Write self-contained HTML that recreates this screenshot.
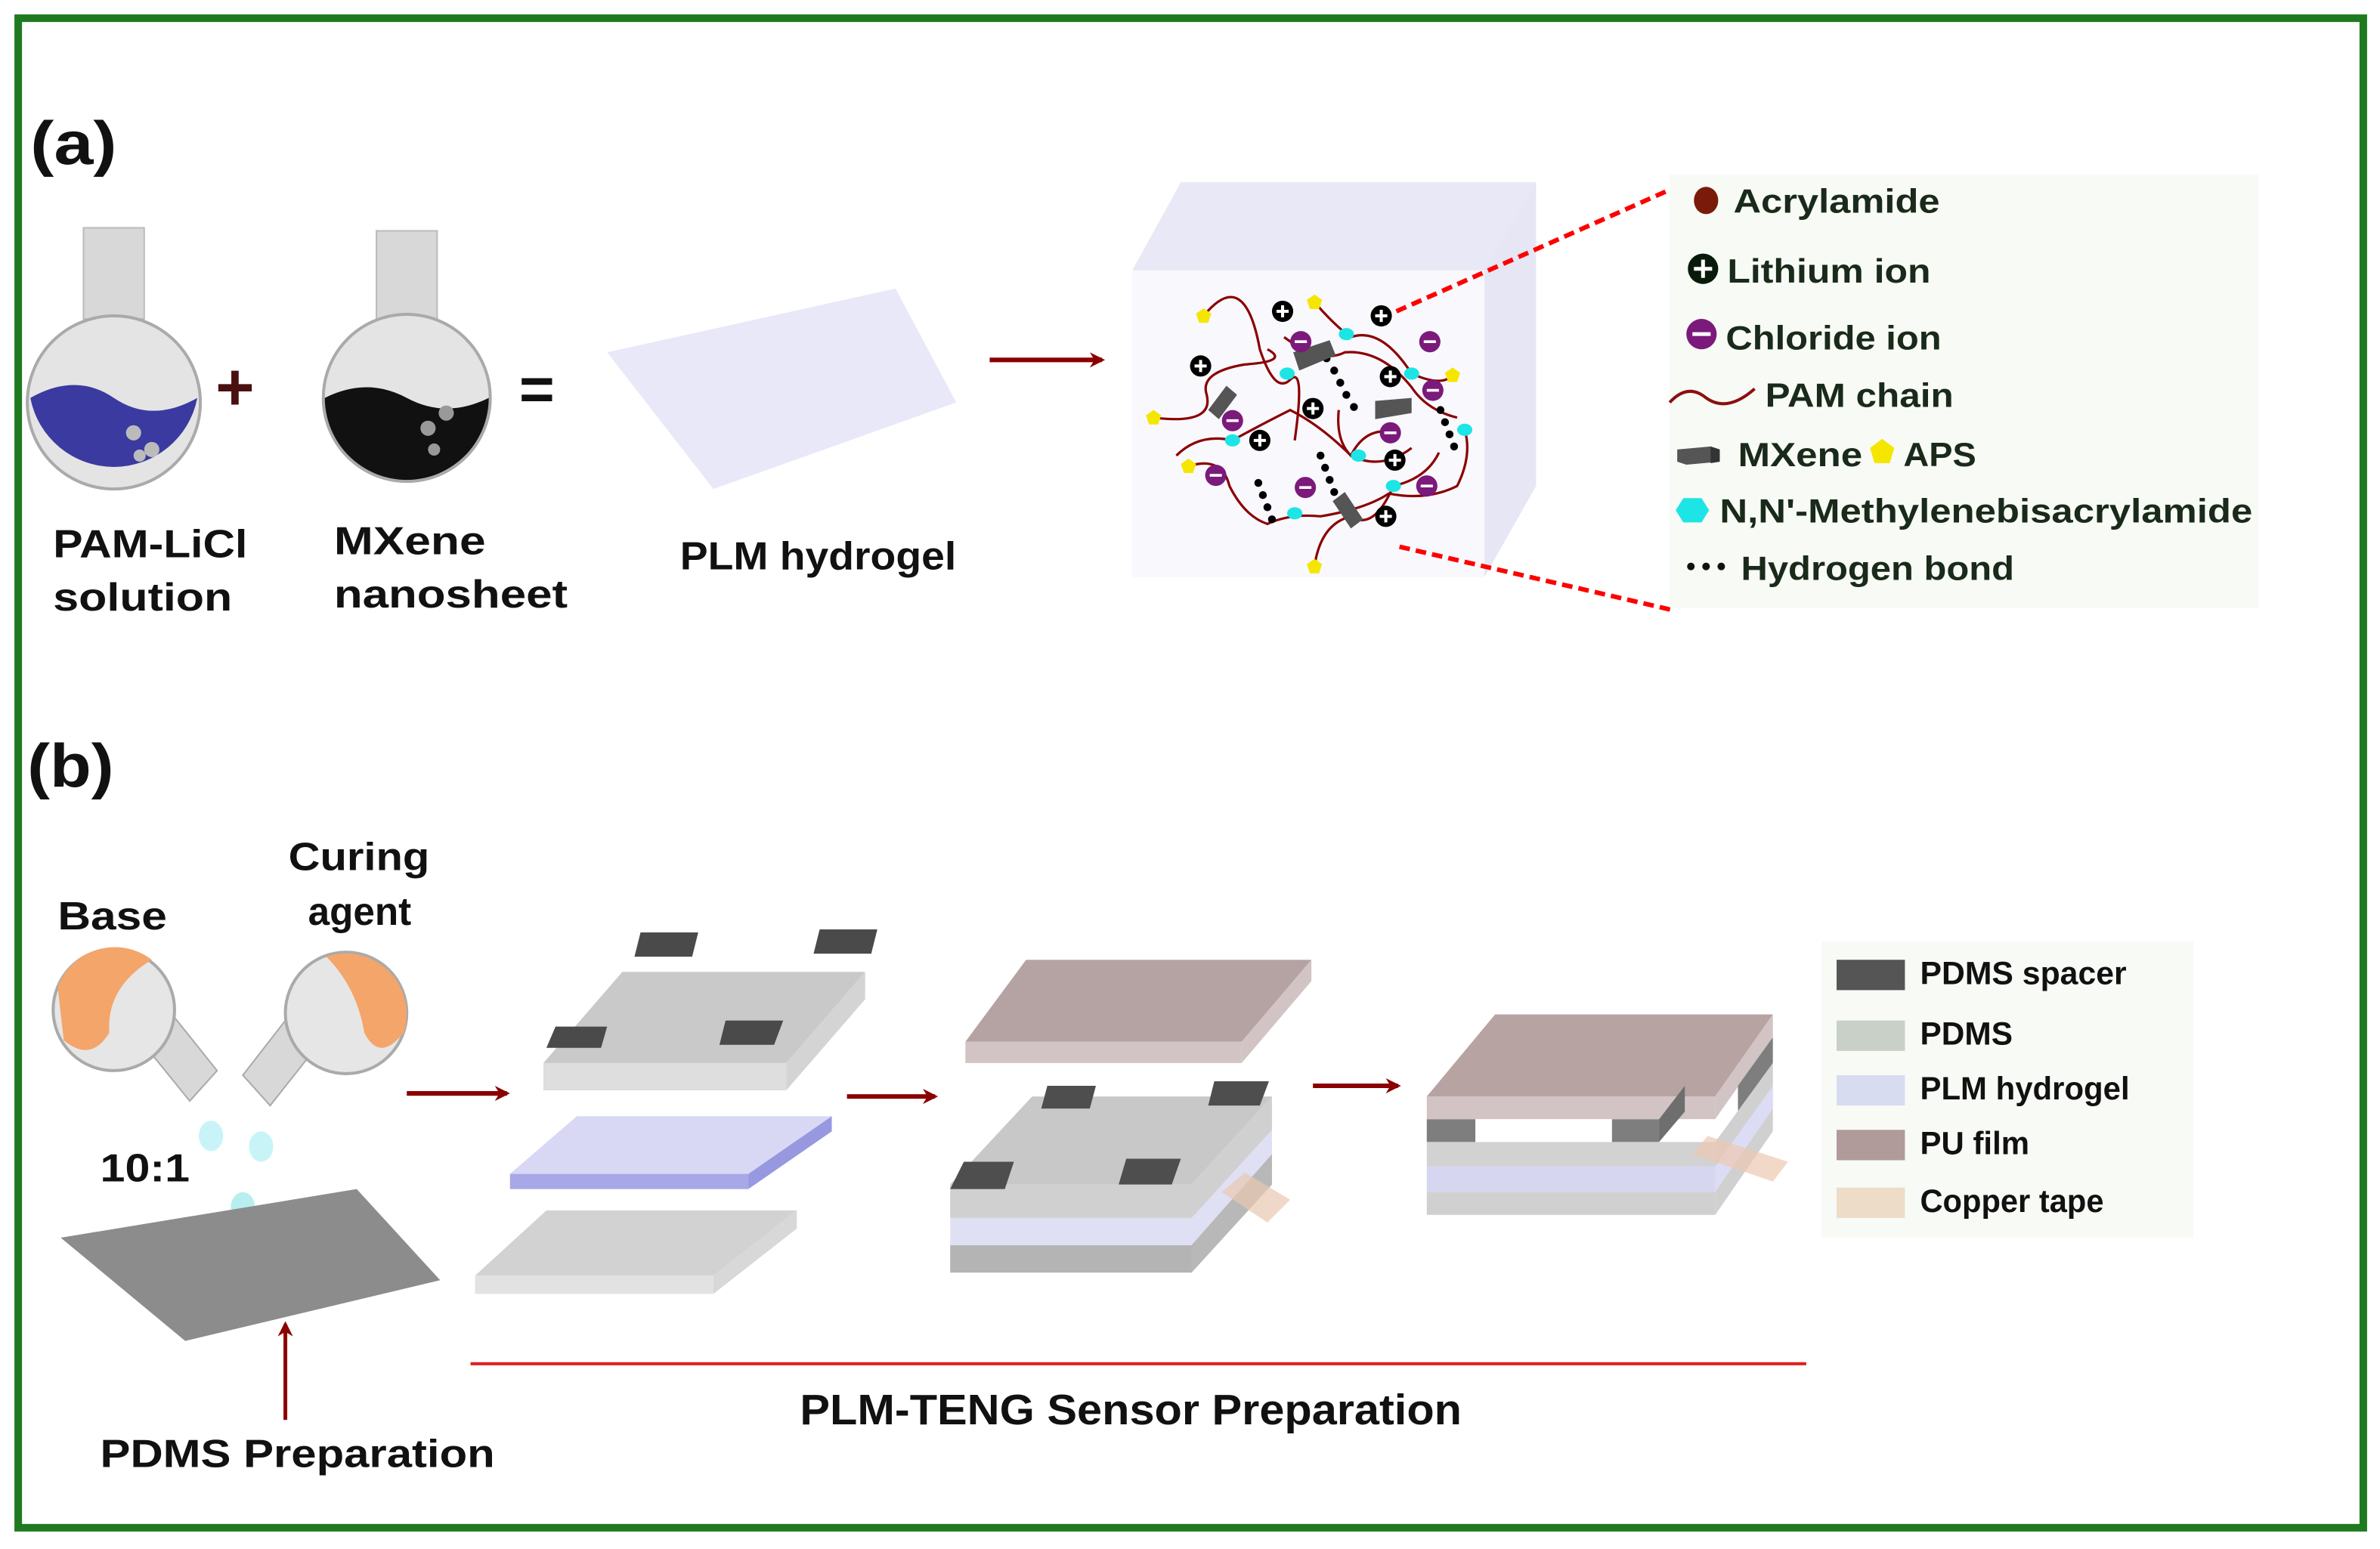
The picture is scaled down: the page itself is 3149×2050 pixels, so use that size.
<!DOCTYPE html>
<html><head><meta charset="utf-8"><style>
html,body{margin:0;padding:0;background:#fff;}
svg{display:block;}
text{font-family:"Liberation Sans",sans-serif;font-weight:bold;fill:#111;}
</style></head><body>
<svg width="3149" height="2050" viewBox="0 0 1568 1020" preserveAspectRatio="none" xmlns="http://www.w3.org/2000/svg">
<defs>
<marker id="ah" markerWidth="10" markerHeight="10" refX="8" refY="5" orient="auto" markerUnits="userSpaceOnUse">
<path d="M0,0 L10,5 L0,10 L3,5 Z" fill="#8b0000"/></marker>
<g id="plus"><circle r="7" fill="#000"/><path d="M-4,0H4M0,-4V4" stroke="#fff" stroke-width="2"/></g>
<g id="minus"><circle r="7" fill="#7b1a7b"/><path d="M-4,0H4" stroke="#fff" stroke-width="1.8"/></g>
<g id="star"><polygon points="0,-5 5,-1.5 3,4.5 -3,4.5 -5,-1.5" fill="#f5e600"/></g>
</defs>
<rect x="0" y="0" width="1568" height="1020" fill="#fff"/>
<rect x="12" y="12" width="1545" height="994" fill="none" stroke="#1f7a1f" stroke-width="5"/>

<text x="20" y="108" font-size="40" textLength="57" lengthAdjust="spacingAndGlyphs">(a)</text>
<text x="18" y="518" font-size="40" textLength="57" lengthAdjust="spacingAndGlyphs">(b)</text>

<!-- flask 1 -->
<rect x="55" y="150" width="40" height="60" fill="#d8d8d8" stroke="#bbb"/>
<circle cx="75" cy="265" r="57" fill="#e4e4e4" stroke="#aaa" stroke-width="2"/>
<path d="M20,262 Q50,245 75,262 T130,262 A56,56 0 0 1 20,262 Z" fill="#3a3aa0"/>
<circle cx="88" cy="285" r="5" fill="#bbb"/><circle cx="100" cy="296" r="5" fill="#bbb"/><circle cx="92" cy="300" r="4" fill="#bbb"/>
<!-- flask 2 -->
<rect x="248" y="152" width="40" height="58" fill="#d8d8d8" stroke="#bbb"/>
<circle cx="268" cy="262" r="55" fill="#e4e4e4" stroke="#aaa" stroke-width="2"/>
<path d="M214,262 Q242,248 268,262 T322,262 A54,54 0 0 1 214,262 Z" fill="#111"/>
<circle cx="282" cy="282" r="5" fill="#999"/><circle cx="294" cy="272" r="5" fill="#999"/><circle cx="286" cy="296" r="4" fill="#999"/>
<text x="142" y="270" font-size="44" style="fill:#4a1010">+</text>
<text x="342" y="270" font-size="40">=</text>
<text x="35" y="367" font-size="26" textLength="128" lengthAdjust="spacingAndGlyphs">PAM-LiCl</text>
<text x="35" y="402" font-size="26" textLength="118" lengthAdjust="spacingAndGlyphs">solution</text>
<text x="220" y="365" font-size="26" textLength="100" lengthAdjust="spacingAndGlyphs">MXene</text>
<text x="220" y="400" font-size="26" textLength="154" lengthAdjust="spacingAndGlyphs">nanosheet</text>

<polygon points="400,232 590,190 630,265 470,322" fill="#e8e8f8"/>
<text x="448" y="375" font-size="26" textLength="182" lengthAdjust="spacingAndGlyphs">PLM hydrogel</text>
<line x1="652" y1="237" x2="726" y2="237" stroke="#8b0000" stroke-width="3" marker-end="url(#ah)"/>

<!-- cube -->
<polygon points="746,178 778,120 1012,120 978,178" fill="#e8e8f6"/>
<polygon points="978,178 1012,120 1012,320 978,380" fill="#e6e6f4"/>
<rect x="746" y="178" width="232" height="202" fill="#f8f8fd"/>
<g fill="none" stroke="#8b0000" stroke-width="1.6">
<path d="M793,208 Q820,175 830,230 Q840,260 850,250 Q860,240 853,290"/>
<path d="M760,275 Q800,280 795,260 Q790,245 820,240 Q850,238 835,230"/>
<path d="M866,199 Q880,215 890,222 Q910,215 930,246 Q950,255 957,247"/>
<path d="M775,300 Q790,285 812,290 Q830,280 850,270 Q870,280 890,300 Q910,310 930,295"/>
<path d="M783,307 Q805,300 810,320 Q820,340 835,345 Q850,338 870,340 Q900,335 915,325 Q940,330 960,320 Q970,300 965,283"/>
<path d="M866,373 Q870,345 890,340 Q905,350 918,320 Q940,315 948,298"/>
<path d="M846,222 Q870,240 886,232 Q910,230 930,255 Q940,270 960,275"/>
<path d="M882,270 Q880,290 890,300 Q900,280 920,285"/>
</g>
<g fill="#000">
<circle cx="874" cy="236" r="2.6"/><circle cx="879" cy="244" r="2.6"/><circle cx="883" cy="252" r="2.6"/><circle cx="887" cy="260" r="2.6"/><circle cx="892" cy="268" r="2.6"/>
<circle cx="949" cy="270" r="2.6"/><circle cx="952" cy="278" r="2.6"/><circle cx="955" cy="286" r="2.6"/><circle cx="958" cy="294" r="2.6"/>
<circle cx="829" cy="318" r="2.6"/><circle cx="832" cy="326" r="2.6"/><circle cx="835" cy="334" r="2.6"/><circle cx="838" cy="342" r="2.6"/>
<circle cx="870" cy="300" r="2.6"/><circle cx="873" cy="308" r="2.6"/><circle cx="876" cy="316" r="2.6"/><circle cx="879" cy="324" r="2.6"/>
</g>
<g fill="#555">
<polygon points="852,232 876,224 880,234 856,244"/>
<polygon points="796,270 808,254 815,260 803,276"/>
<polygon points="906,264 930,262 930,272 906,276"/>
<polygon points="878,330 886,324 898,342 890,348"/>
</g>
<use href="#plus" x="845" y="205"/><use href="#plus" x="910" y="208"/><use href="#plus" x="791" y="241"/><use href="#plus" x="916" y="248"/>
<use href="#plus" x="865" y="269"/><use href="#plus" x="830" y="290"/><use href="#plus" x="919" y="303"/><use href="#plus" x="913" y="340"/>
<use href="#minus" x="857" y="225"/><use href="#minus" x="942" y="225"/><use href="#minus" x="944" y="257"/><use href="#minus" x="916" y="285"/>
<use href="#minus" x="812" y="277"/><use href="#minus" x="801" y="313"/><use href="#minus" x="860" y="321"/><use href="#minus" x="940" y="320"/>
<g fill="#1de5e5">
<ellipse cx="887" cy="220" rx="5" ry="4"/><ellipse cx="848" cy="246" rx="5" ry="4"/><ellipse cx="930" cy="246" rx="5" ry="4"/>
<ellipse cx="812" cy="290" rx="5" ry="4"/><ellipse cx="965" cy="283" rx="5" ry="4"/><ellipse cx="895" cy="300" rx="5" ry="4"/>
<ellipse cx="853" cy="338" rx="5" ry="4"/><ellipse cx="918" cy="320" rx="5" ry="4"/>
</g>
<use href="#star" x="793" y="208"/><use href="#star" x="866" y="199"/><use href="#star" x="957" y="247"/>
<use href="#star" x="760" y="275"/><use href="#star" x="783" y="307"/><use href="#star" x="866" y="373"/>
<line x1="920" y1="205" x2="1100" y2="125" stroke="#f00" stroke-width="3" stroke-dasharray="7,4"/>
<line x1="922" y1="360" x2="1103" y2="402" stroke="#f00" stroke-width="3" stroke-dasharray="7,4"/>

<!-- legend a -->
<rect x="1100" y="115" width="388" height="285" fill="#f7faf5"/>
<ellipse cx="1124" cy="132" rx="8" ry="9" fill="#7a1a0a"/>
<text x="1142" y="140" font-size="22" textLength="136" lengthAdjust="spacingAndGlyphs" style="fill:#1a2a1a">Acrylamide</text>
<circle cx="1122" cy="177" r="10" fill="#0a1a0a"/><path d="M1116,177H1128M1122,171V183" stroke="#fff" stroke-width="2.5"/>
<text x="1138" y="186" font-size="22" textLength="134" lengthAdjust="spacingAndGlyphs" style="fill:#1a2a1a">Lithium ion</text>
<circle cx="1121" cy="220" r="10" fill="#7b1a7b"/><path d="M1115,220H1127" stroke="#fff" stroke-width="2.5"/>
<text x="1137" y="230" font-size="22" textLength="142" lengthAdjust="spacingAndGlyphs" style="fill:#1a2a1a">Chloride ion</text>
<path d="M1100,265 Q1112,252 1124,262 Q1138,272 1156,256" fill="none" stroke="#8b1010" stroke-width="2"/>
<text x="1163" y="268" font-size="22" textLength="124" lengthAdjust="spacingAndGlyphs" style="fill:#1a2a1a">PAM chain</text>
<polygon points="1105,296 1127,294 1133,296 1133,304 1111,306 1105,304" fill="#555"/>
<polygon points="1127,294 1133,296 1133,304 1127,305" fill="#333"/>
<text x="1145" y="307" font-size="22" textLength="82" lengthAdjust="spacingAndGlyphs" style="fill:#1a2a1a">MXene</text>
<polygon points="1240,289 1248,295 1245,305 1235,305 1232,295" fill="#f5e600"/>
<text x="1254" y="307" font-size="22" textLength="48" lengthAdjust="spacingAndGlyphs" style="fill:#1a2a1a">APS</text>
<polygon points="1109,328 1121,328 1126,336 1121,344 1109,344 1104,336" fill="#1de5e5"/>
<text x="1133" y="344" font-size="22" textLength="351" lengthAdjust="spacingAndGlyphs" style="fill:#1a2a1a">N,N'-Methylenebisacrylamide</text>
<circle cx="1114" cy="373" r="2.5" fill="#111"/><circle cx="1124" cy="373" r="2.5" fill="#111"/><circle cx="1134" cy="373" r="2.5" fill="#111"/>
<text x="1147" y="382" font-size="22" textLength="180" lengthAdjust="spacingAndGlyphs" style="fill:#1a2a1a">Hydrogen bond</text>

<!-- part b flasks -->
<text x="38" y="612" font-size="26" textLength="72" lengthAdjust="spacingAndGlyphs">Base</text>
<text x="190" y="573" font-size="26" textLength="93" lengthAdjust="spacingAndGlyphs">Curing</text>
<text x="203" y="609" font-size="26" textLength="68" lengthAdjust="spacingAndGlyphs">agent</text>
<polygon points="95,688 115,670 143,705 125,725" fill="#d8d8d8" stroke="#aaa"/>
<circle cx="75" cy="665" r="40" fill="#e6e6e6" stroke="#aaa" stroke-width="2"/>
<path d="M38,650 A40,40 0 0 1 100,632 Q70,650 72,680 Q60,700 42,685 Z" fill="#f4a56a"/>
<polygon points="208,690 188,672 160,708 178,728" fill="#d8d8d8" stroke="#aaa"/>
<circle cx="228" cy="667" r="40" fill="#e6e6e6" stroke="#aaa" stroke-width="2"/>
<path d="M215,630 A40,40 0 0 1 266,680 Q250,700 240,680 Q235,650 215,630 Z" fill="#f4a56a"/>
<ellipse cx="139" cy="748" rx="8" ry="10" fill="#c8f4f8"/>
<ellipse cx="172" cy="755" rx="8" ry="10" fill="#c8f4f8"/>
<ellipse cx="160" cy="795" rx="8" ry="10" fill="#b8eef0"/>
<text x="66" y="778" font-size="26" textLength="59" lengthAdjust="spacingAndGlyphs">10:1</text>
<polygon points="40,815 235,783 290,843 122,883" fill="#8c8c8c"/>
<line x1="188" y1="935" x2="188" y2="872" stroke="#8b0000" stroke-width="2.5" marker-end="url(#ah)"/>
<text x="66" y="966" font-size="26" textLength="260" lengthAdjust="spacingAndGlyphs">PDMS Preparation</text>

<line x1="268" y1="720" x2="334" y2="720" stroke="#8b0000" stroke-width="3" marker-end="url(#ah)"/>
<line x1="558" y1="722" x2="616" y2="722" stroke="#8b0000" stroke-width="3" marker-end="url(#ah)"/>
<line x1="865" y1="715" x2="921" y2="715" stroke="#8b0000" stroke-width="3" marker-end="url(#ah)"/>

<!-- stack 1 -->
<polygon points="358,700 410,640 570,640 518,700" fill="#c9c9c9"/>
<rect x="358" y="700" width="160" height="18" fill="#dedede"/>
<polygon points="518,700 570,640 570,658 518,718" fill="#d4d4d4"/>
<g fill="#4a4a4a">
<polygon points="366,676 400,676 396,690 360,690"/><polygon points="478,672 516,672 510,688 474,688"/>
<polygon points="422,614 460,614 456,630 418,630"/><polygon points="540,612 578,612 574,628 536,628"/>
</g>
<polygon points="336,773 380,735 548,735 493,773" fill="#d8d8f5"/>
<rect x="336" y="773" width="157" height="10" fill="#a8a8e8"/>
<polygon points="493,773 548,735 548,745 493,783" fill="#9898e0"/>
<polygon points="313,840 360,797 525,797 470,840" fill="#d2d2d2"/>
<rect x="313" y="840" width="157" height="12" fill="#e2e2e2"/>
<polygon points="470,840 525,797 525,809 470,852" fill="#d8d8d8"/>

<!-- stack 2 -->
<polygon points="636,686 676,632 864,632 818,686" fill="#b5a3a3"/>
<rect x="636" y="686" width="182" height="14" fill="#d2c4c4"/>
<polygon points="818,686 864,632 864,646 818,700" fill="#d2c4c4"/>
<polygon points="626,780 680,722 838,722 785,780" fill="#c8c8c8"/>
<rect x="626" y="780" width="159" height="22" fill="#d0d0d0"/>
<rect x="626" y="802" width="159" height="18" fill="#e0e0f4"/>
<rect x="626" y="820" width="159" height="18" fill="#b4b4b4"/>
<polygon points="785,780 838,722 838,780 785,838" fill="#d0d0d0"/>
<polygon points="785,802 838,744 838,760 785,820" fill="#e0e0f4"/>
<polygon points="785,820 838,760 838,780 785,838" fill="#b8b8b8"/>
<polygon points="805,785 820,772 850,790 835,805" fill="#e8c8b0" opacity="0.7"/>
<g fill="#4e4e4e">
<polygon points="635,765 668,765 662,783 626,783"/><polygon points="742,763 778,763 772,780 737,780"/>
<polygon points="690,715 722,715 718,730 686,730"/><polygon points="800,712 836,712 830,728 796,728"/>
</g>

<!-- stack 3 -->
<polygon points="940,722 985,668 1168,668 1130,722" fill="#b8a3a3"/>
<rect x="940" y="722" width="190" height="15" fill="#d2c4c4"/>
<polygon points="1130,722 1168,668 1168,683 1130,737" fill="#d2c4c4"/>
<rect x="940" y="737" width="190" height="15" fill="#fff"/>
<rect x="940" y="737" width="32" height="15" fill="#7e7e7e"/>
<rect x="1062" y="737" width="31" height="15" fill="#7e7e7e"/>
<polygon points="1093,737 1110,715 1110,732 1093,752" fill="#6e6e6e"/>
<polygon points="1130,737 1168,683 1168,700 1130,752" fill="#fff"/>
<polygon points="1145,715 1168,683 1168,700 1145,732" fill="#7e7e7e"/>
<rect x="940" y="752" width="190" height="16" fill="#d2d2d2"/>
<rect x="940" y="768" width="190" height="17" fill="#d6d6f0"/>
<rect x="940" y="785" width="190" height="15" fill="#d0d0d0"/>
<polygon points="1130,752 1168,700 1168,745 1130,800" fill="#d0d0d0"/>
<polygon points="1130,768 1168,715 1168,730 1130,785" fill="#dcdcf4"/>
<polygon points="1115,760 1125,748 1178,765 1168,778" fill="#ecc8b0" opacity="0.7"/>

<line x1="310" y1="898" x2="1190" y2="898" stroke="#e02020" stroke-width="2"/>
<text x="527" y="938" font-size="28" textLength="436" lengthAdjust="spacingAndGlyphs">PLM-TENG Sensor Preparation</text>

<!-- legend b -->
<rect x="1200" y="620" width="245" height="195" fill="#f8faf6"/>
<rect x="1210" y="632" width="45" height="20" fill="#555"/>
<rect x="1210" y="672" width="45" height="20" fill="#c8d0c8"/>
<rect x="1210" y="708" width="45" height="20" fill="#d8dcf0"/>
<rect x="1210" y="744" width="45" height="20" fill="#b09a9a"/>
<rect x="1210" y="782" width="45" height="20" fill="#ecdcc8"/>
<text x="1265" y="648" font-size="21" textLength="136" lengthAdjust="spacingAndGlyphs">PDMS spacer</text>
<text x="1265" y="688" font-size="21" textLength="61" lengthAdjust="spacingAndGlyphs">PDMS</text>
<text x="1265" y="724" font-size="21" textLength="138" lengthAdjust="spacingAndGlyphs">PLM hydrogel</text>
<text x="1265" y="760" font-size="21" textLength="72" lengthAdjust="spacingAndGlyphs">PU film</text>
<text x="1265" y="798" font-size="21" textLength="121" lengthAdjust="spacingAndGlyphs">Copper tape</text>
</svg>
</body></html>
